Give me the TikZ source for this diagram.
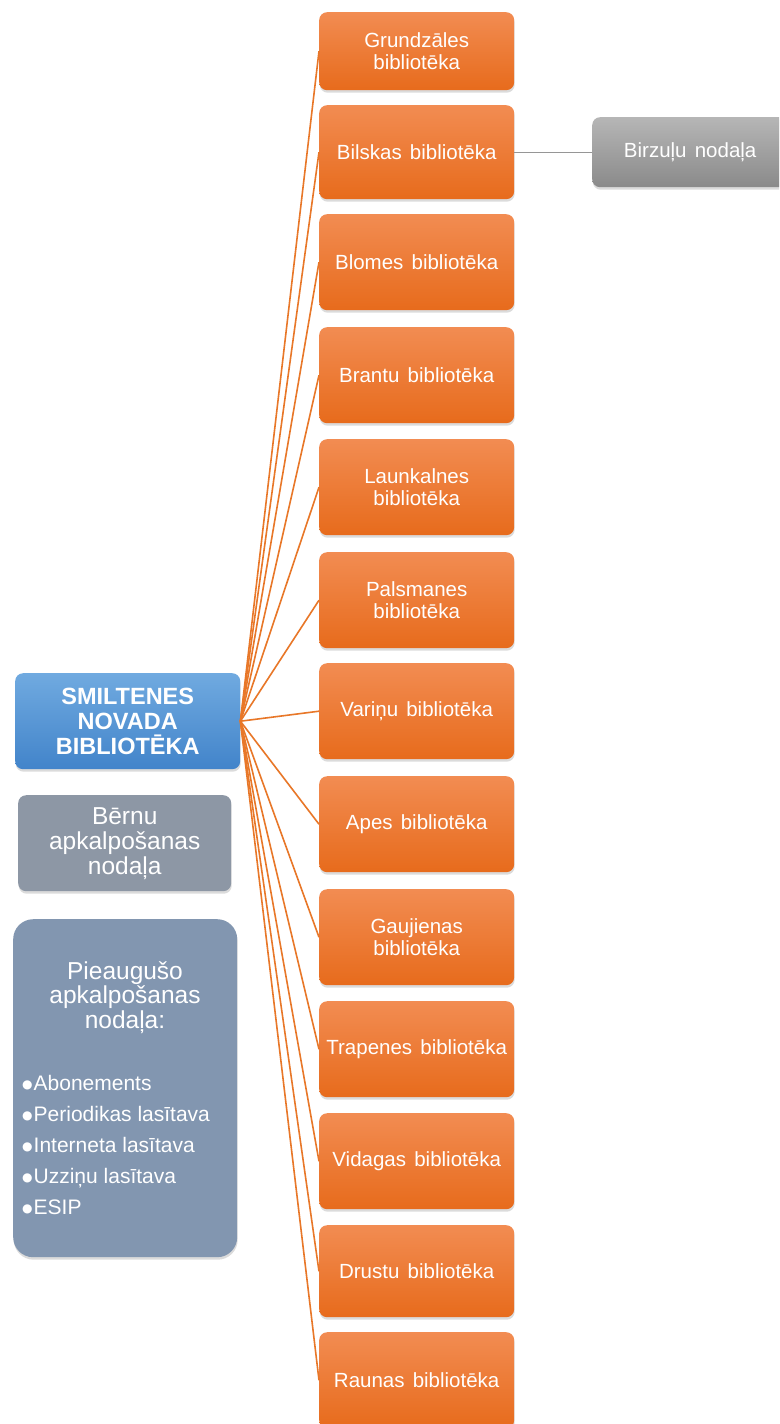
\documentclass[tikz,border=0pt]{standalone}
\usepackage{fontspec}
\setmainfont{Liberation Sans}
\newfontfamily\symfont{DejaVu Sans}
\usetikzlibrary{shadows}
\definecolor{orTop}{RGB}{242,140,82}
\definecolor{orBot}{RGB}{231,107,28}
\definecolor{orLine}{RGB}{232,119,40}
\definecolor{blTop}{RGB}{112,170,224}
\definecolor{blBot}{RGB}{66,132,202}
\definecolor{grBox}{RGB}{141,151,165}
\definecolor{adBox}{RGB}{130,150,176}
\definecolor{gyTop}{RGB}{182,182,182}
\definecolor{gyBot}{RGB}{138,138,138}
\definecolor{gyLine}{RGB}{150,150,150}
\newcommand{\bulmark}{\raisebox{2.2pt}{\symfont\fontsize{12}{12}\selectfont ●}\hspace{1pt}}
\newcommand{\libfont}{\fontsize{20.5}{22}\selectfont\spaceskip=0.4em\relax}
\begin{document}
\begin{tikzpicture}[x=1pt,y=-1pt,
  box/.style={rounded corners=8pt, inner sep=0pt, text=white, align=center, anchor=north west,
    drop shadow={opacity=0.28, shadow xshift=0.5pt, shadow yshift=-2.5pt}},
  lib/.style={box, top color=orTop, bottom color=orBot, minimum width=195pt, minimum height=96pt,
    font=\libfont},
  link/.style={draw=orLine, line width=1.6pt},
  sublink/.style={draw=gyLine, line width=1.2pt},
]
\useasboundingbox (0,0) rectangle (779,1424);
\clip (0,0) rectangle (779,1424);
\fill[white] (0,0) rectangle (779,1424);

% main node
\node[box, top color=blTop, bottom color=blBot, minimum width=225pt, minimum height=96pt,
  font=\bfseries\fontsize{23.5}{25}\selectfont] (main) at (15,673) {SMILTENES\\NOVADA\\BIBLIOTĒKA};

% children departments
\node[box, fill=grBox, minimum width=213pt, minimum height=96pt,
  font=\fontsize{24.5}{25}\selectfont] (child) at (18,795) {Bērnu\\apkalpošanas\\nodaļa};

\node[box, fill=adBox, rounded corners=20pt, minimum width=224pt, minimum height=338pt] (adult) at (13,919) {};
\node[anchor=north, align=center, inner sep=0pt, text=white, font=\fontsize{24.5}{24.5}\selectfont]
  (adulthead) at (125,961) {Pieaugušo\\apkalpošanas\\nodaļa:};
\node[anchor=north west, align=left, inner sep=0pt, text=white, font=\fontsize{21}{31}\selectfont]
  (adultlist) at (22,1075) {%
  \bulmark Abonements\\
  \bulmark Periodikas lasītava\\
  \bulmark Interneta lasītava\\
  \bulmark Uzziņu lasītava\\
  \bulmark ESIP};

% libraries
\node[lib, minimum height=78pt] (n1) at (319,12) {Grundzāles\\bibliotēka};
\node[lib, minimum height=94pt] (n2) at (319,105) {Bilskas bibliotēka};
\node[lib] (n3) at (319,214) {Blomes bibliotēka};
\node[lib] (n4) at (319,327) {Brantu bibliotēka};
\node[lib] (n5) at (319,439) {Launkalnes\\bibliotēka};
\node[lib] (n6) at (319,552) {Palsmanes\\bibliotēka};
\node[lib] (n7) at (319,663) {Variņu bibliotēka};
\node[lib] (n8) at (319,776) {Apes bibliotēka};
\node[lib] (n9) at (319,889) {Gaujienas\\bibliotēka};
\node[lib] (n10) at (319,1001) {Trapenes bibliotēka};
\node[lib] (n11) at (319,1113) {Vidagas bibliotēka};
\node[lib, minimum height=92pt] (n12) at (319,1225) {Drustu bibliotēka};
\node[lib] (n13) at (319,1332) {Raunas bibliotēka};

% sub-branch
\node[box, top color=gyTop, bottom color=gyBot, minimum width=196pt, minimum height=70pt,
  font=\libfont] (birz) at (592,117) {Birzuļu nodaļa};

% connectors
\foreach \n in {n1,n2,n3,n4,n5,n6,n7,n8,n9,n10,n11,n12,n13}
  \draw[link] (main.east) -- (\n.west);
\draw[sublink] (n2.east) -- (birz.west);
\end{tikzpicture}
\end{document}
